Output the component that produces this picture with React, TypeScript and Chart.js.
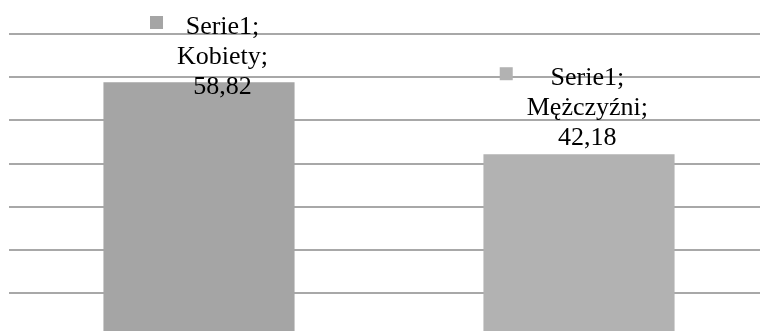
import React, { useEffect, useRef } from "react";
import { Chart, registerables } from "chart.js";

Chart.register(...registerables);

const categories = ["Kobiety", "Mężczyźni"];
const seriesName = "Serie1";
const values = [58.82, 42.18];
const barColors = ["#a5a5a5", "#b2b2b2"];
const yMax = 70;
const yStep = 10;

const LABEL_FONT = "26px 'Liberation Serif', 'Times New Roman', serif";

function formatValue(v: number) {
  return v.toFixed(2).replace(".", ",");
}

// Data labels with a legend key: "Serie1;" / category; / value
const dataLabelPlugin = {
  id: "keyedLabels",
  afterDatasetsDraw(chart: any) {
    const ctx = chart.ctx as CanvasRenderingContext2D;
    const meta = chart.getDatasetMeta(0);
    const lineH = 30;
    ctx.save();
    ctx.font = LABEL_FONT;
    ctx.fillStyle = "#000000";
    ctx.textBaseline = "alphabetic";
    ctx.textAlign = "center";
    meta.data.forEach((bar: any, i: number) => {
      const lines = [
        seriesName + ";",
        categories[i] + ";",
        formatValue(values[i]),
      ];
      const maxW = Math.max(...lines.map((l) => ctx.measureText(l).width));
      const lastBase = bar.y - 9;
      const firstBase = Math.max(lastBase - lineH * (lines.length - 1), 34);
      const textRight = bar.x + 69;
      const textCenter = textRight - maxW / 2;
      const keyLeft = textRight - maxW - 14 - 13;
      ctx.fillStyle = barColors[i];
      ctx.fillRect(keyLeft, firstBase - 18, 13, 13);
      ctx.fillStyle = "#000000";
      lines.forEach((l, k) => {
        ctx.fillText(l, textCenter, firstBase + k * lineH);
      });
    });
    ctx.restore();
  },
};

export default function App() {
  const canvasRef = useRef<HTMLCanvasElement | null>(null);

  useEffect(() => {
    document.body.style.margin = "0";
    document.body.style.overflow = "hidden";
    const canvas = canvasRef.current;
    if (!canvas) return;
    const chart = new Chart(canvas, {
      type: "bar",
      data: {
        labels: categories,
        datasets: [
          {
            label: seriesName,
            data: values,
            backgroundColor: barColors,
            borderWidth: 0,
            categoryPercentage: 1,
            barPercentage: 0.503,
          },
        ],
      },
      options: {
        animation: false,
        responsive: false,
        maintainAspectRatio: false,
        layout: { padding: { left: 9, right: 1, top: 34, bottom: 8.5 } },
        plugins: {
          legend: { display: false },
          tooltip: { enabled: false },
        },
        scales: {
          x: {
            display: false,
          },
          y: {
            min: 0,
            max: yMax,
            ticks: { display: false, stepSize: yStep },
            border: { display: false },
            grid: {
              color: "#a8a8a8",
              lineWidth: 2,
              drawTicks: false,
            },
          },
        },
      },
      plugins: [dataLabelPlugin],
    });
    return () => chart.destroy();
  }, []);

  return (
    <div style={{ width: 760, height: 331, overflow: "hidden", background: "#ffffff" }}>
      <canvas ref={canvasRef} width={770} height={345} style={{ display: "block" }} />
    </div>
  );
}
